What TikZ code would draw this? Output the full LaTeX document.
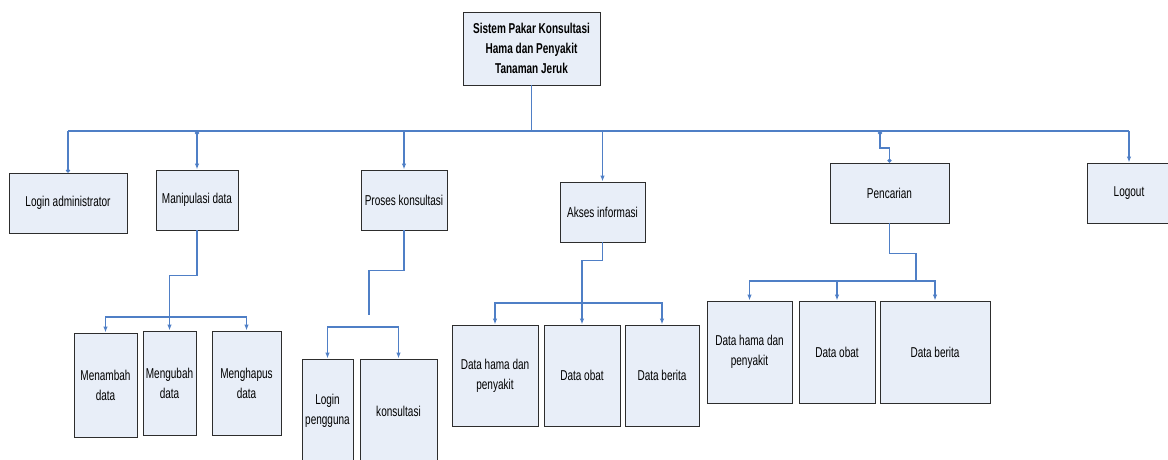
\documentclass[tikz,border=0pt]{standalone}
\usepackage{fontspec}
\setmainfont{Liberation Sans}[FakeStretch=0.7]
\usetikzlibrary{arrows.meta}
\definecolor{boxfill}{RGB}{232,238,248}
\definecolor{boxline}{RGB}{45,45,45}
\definecolor{linkblue}{RGB}{79,127,198}

\begin{document}
\begin{tikzpicture}[x=1pt, y=-1pt,
    box/.style={draw=boxline, fill=boxfill, line width=0.9pt, inner sep=0pt, align=center, font=\fontsize{14.3}{20}\selectfont},
    link/.style={draw=linkblue, line width=1.3pt},
    arr/.style={link, -{Latex[length=6pt,width=4.5pt]}},
    dotted end/.style={link, -{Circle[length=4pt]}}]
  \useasboundingbox (0,0) rectangle (1168,459);

  % top
  \node[box, font=\fontsize{14.3}{20}\selectfont\bfseries, minimum width=137, minimum height=73] (root) at (531.5,48.5) {Sistem Pakar Konsultasi\\Hama dan Penyakit\\Tanaman Jeruk};

  % level 1
  \node[box, minimum width=118, minimum height=60] (login) at (68,203) {Login administrator};
  \node[box, minimum width=82, minimum height=60] (manip) at (197,200) {Manipulasi data};
  \node[box, minimum width=86, minimum height=60] (proses) at (404,200) {Proses konsultasi};
  \node[box, minimum width=85, minimum height=60] (akses) at (602.5,212) {Akses informasi};
  \node[box, minimum width=119, minimum height=60] (cari) at (889.5,193) {Pencarian};
  \node[box, minimum width=84, minimum height=60] (logout) at (1129,193) {Logout};

  % level 2
  \node[box, minimum width=63, minimum height=104] (tambah) at (105.5,385) {Menambah\\data};
  \node[box, minimum width=53, minimum height=104] (ubah) at (169.5,383) {Mengubah\\data};
  \node[box, minimum width=69, minimum height=104] (hapus) at (246.5,383) {Menghapus\\data};
  \node[box, minimum width=51, minimum height=104] (loginp) at (327.5,411) {Login\\pengguna};
  \node[box, minimum width=77, minimum height=104] (kons) at (398.5,411) {konsultasi};
  \node[box, minimum width=86, minimum height=101] (hama1) at (495,375.5) {Data hama dan\\penyakit};
  \node[box, minimum width=76, minimum height=101] (obat1) at (582,375.5) {Data obat};
  \node[box, minimum width=74, minimum height=101] (berita1) at (662,375.5) {Data berita};
  \node[box, minimum width=85, minimum height=102] (hama2) at (749.5,352) {Data hama dan\\penyakit};
  \node[box, minimum width=76, minimum height=102] (obat2) at (837,352) {Data obat};
  \node[box, minimum width=110, minimum height=102] (berita2) at (935,352) {Data berita};

  % main bus
  \coordinate (busL) at (68,131);
  \coordinate (busR) at (1129,131);
  \coordinate (cariJ) at (880,131);
  \draw[link] (root.south) -- (root.south |- busL);
  \draw[link] (busL) -- (busR);
  \draw[dotted end] (busL) -- (login.north);
  \draw[arr, {Circle[length=4pt]}-{Latex[length=6pt,width=4.5pt]}] (manip.north |- busL) -- (manip.north);
  \draw[arr] (proses.north |- busL) -- (proses.north);
  \draw[arr] (akses.north |- busL) -- (akses.north);
  \draw[link, {Circle[length=4pt]}-{Circle[length=4pt]}] (cariJ) -- ++(0,17) -| (cari.north);
  \draw[arr] (busR) -- (logout.north);

  % manipulasi data
  \coordinate (manipJ) at (ubah.north |- 0,317);
  \draw[link] (manip.south) -- ++(0,45) -| (manipJ);
  \draw[arr] (manipJ) -- (ubah.north);
  \draw[arr] (manipJ) -| (tambah.north);
  \draw[arr] (manipJ) -| (hapus.north);

  % proses konsultasi
  \coordinate (prosesEnd) at (369,315);
  \coordinate (konsJ) at (363,327);
  \draw[link] (proses.south) -- ++(0,40) -| (prosesEnd);
  \draw[arr] (konsJ) -| (loginp.north);
  \draw[arr] (konsJ) -| (kons.north);

  % akses informasi
  \coordinate (aksesJ) at (obat1.north |- 0,303);
  \draw[arr] (akses.south) -- ++(0,18) -| (obat1.north);
  \draw[arr] (aksesJ) -| (hama1.north);
  \draw[arr] (aksesJ) -| (berita1.north);

  % pencarian
  \coordinate (cariJ2) at (916,281);
  \draw[link] (cari.south) -- ++(0,30) -| (cariJ2);
  \draw[arr] (cariJ2) -| (hama2.north);
  \draw[arr] (cariJ2) -| (obat2.north);
  \draw[arr] (cariJ2) -| (berita2.north);
\end{tikzpicture}
\end{document}
